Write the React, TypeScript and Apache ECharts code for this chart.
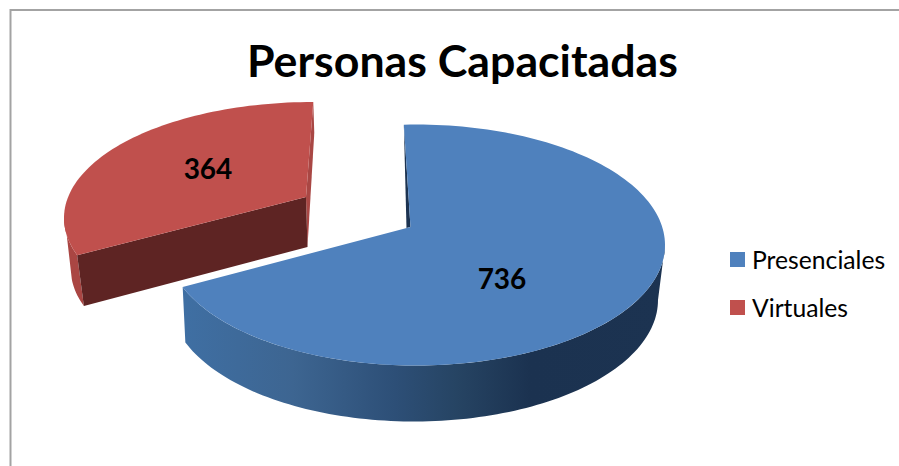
import React, { useEffect, useRef } from "react";
import * as echarts from "echarts";

const titleText = "Personas Capacitadas";
const categories = ["Presenciales", "Virtuales"];
const values = [736, 364];
const colors = ["#4F81BD", "#C0504D"];

const FONT = "Lato, 'Open Sans', sans-serif";
const total = values.reduce((a, b) => a + b, 0);

type Pt = [number, number];
type Ell = { cx: number; cy: number; rx: number; ry: number };

// Geometry of the tilted, exploded pie (one entry per slice)
const blueGeom = {
  top: { cx: 416, cy: 245, rx: 249, ry: 120.5 } as Ell,
  bottom: { cx: 414, cy: 300, rx: 244, ry: 121.5 } as Ell,
  startParam: -2.8,
  stretch: 1.0477,
  apex: [410.5, 227] as Pt,
  sideFrom: 90,
  label: [502, 278] as Pt,
};
const redGeom = {
  top: { cx: 313, cy: 218, rx: 249, ry: 116 } as Ell,
  bottom: { cx: 315, cy: 270, rx: 244, ry: 112 } as Ell,
  startParam: 251.3,
  stretch: 0.913,
  apex: [306, 197] as Pt,
  apexLow: [307.5, 247] as Pt,
  label: [208, 168] as Pt,
};

const rim = (e: Ell, deg: number): Pt => {
  const t = (deg * Math.PI) / 180;
  return [e.cx + e.rx * Math.sin(t), e.cy - e.ry * Math.cos(t)];
};
const arc = (e: Ell, from: number, to: number): Pt[] => {
  const n = Math.max(2, Math.ceil(Math.abs(to - from) / 1.5));
  const out: Pt[] = [];
  for (let i = 0; i <= n; i++) out.push(rim(e, from + ((to - from) * i) / n));
  return out;
};
const labelFont = `bold 28px ${FONT}`;
const poly = (points: Pt[], fill: any) => ({
  type: "polygon",
  shape: { points },
  style: { fill },
  silent: true,
});
const valueLabel = (p: Pt, v: number) => ({
  type: "text",
  style: {
    text: String(v),
    x: p[0],
    y: p[1],
    font: labelFont,
    fill: "#000000",
    align: "center",
    verticalAlign: "middle",
  },
  silent: true,
});

const renderBlue = (_: any, api: any) => {
  const g = blueGeom;
  const span = (360 * api.value(0)) / total;
  const a0 = g.startParam;
  const a1 = a0 + span * g.stretch;
  const gradient = new echarts.graphic.LinearGradient(0, 0, 1, 0, [
    { offset: 0, color: "#3F6FA3" },
    { offset: 0.23, color: "#3D6591" },
    { offset: 0.44, color: "#2D4F77" },
    { offset: 0.57, color: "#264463" },
    { offset: 0.72, color: "#1B3250" },
    { offset: 1, color: "#1C3351" },
  ]);
  return {
    type: "group",
    children: [
      poly(
        [...arc(g.top, g.sideFrom, a1), ...arc(g.bottom, a1, g.sideFrom)],
        gradient
      ),
      poly([rim(g.top, a0), g.apex, [g.apex[0] - 4, g.apex[1] + 1]], "#1C3351"),
      poly([g.apex, ...arc(g.top, a0, a1)], colors[0]),
      valueLabel(g.label, api.value(0)),
    ],
  };
};

const renderRed = (_: any, api: any) => {
  const g = redGeom;
  const span = (360 * api.value(0)) / total;
  const a0 = g.startParam;
  const a1 = a0 + span * g.stretch;
  const corner = rim(g.top, a1);
  const cornerLow: Pt = [corner[0] + 1, corner[1] + 31];
  return {
    type: "group",
    children: [
      poly([corner, cornerLow, g.apexLow, g.apex], "#A94744"),
      poly(
        [...arc(g.top, a0, a0 + 21), ...arc(g.bottom, a0 + 14, a0)],
        "#AA4643"
      ),
      poly([g.apex, rim(g.top, a0), rim(g.bottom, a0), g.apexLow], "#5E2423"),
      poly([g.apex, ...arc(g.top, a0, a1)], colors[1]),
      valueLabel(g.label, api.value(0)),
    ],
  };
};

export default function App() {
  const ref = useRef<HTMLDivElement>(null);
  useEffect(() => {
    const chart = echarts.init(ref.current!, undefined, { renderer: "svg" });
    chart.setOption({
      animation: false,
      backgroundColor: "#ffffff",
      title: {
        text: titleText,
        left: 242,
        top: 32,
        textStyle: {
          fontFamily: FONT,
          fontWeight: "bold",
          fontSize: 44.7,
          color: "#000000",
        },
      },
      legend: {
        orient: "vertical",
        left: 725,
        top: 242,
        padding: 5,
        icon: "rect",
        itemWidth: 15,
        itemHeight: 15,
        itemGap: 23,
        data: categories,
        textStyle: {
          fontFamily: FONT,
          fontSize: 24.7,
          lineHeight: 24,
          color: "#000000",
          padding: [0, 0, 0, 2],
        },
      },
      graphic: [
        {
          type: "polyline",
          shape: { points: [[10.5, 466], [10.5, 10], [899, 10]] },
          style: { stroke: "#A3A3A3", lineWidth: 2, fill: "none" },
          silent: true,
        },
      ],
      series: [
        {
          type: "custom",
          name: categories[0],
          coordinateSystem: "none",
          itemStyle: { color: colors[0] },
          data: [[values[0]]],
          renderItem: renderBlue,
        },
        {
          type: "custom",
          name: categories[1],
          coordinateSystem: "none",
          itemStyle: { color: colors[1] },
          data: [[values[1]]],
          renderItem: renderRed,
        },
      ],
    });
    return () => chart.dispose();
  }, []);
  return (
    <div
      ref={ref}
      style={{ position: "fixed", left: 0, top: 0, width: 899, height: 466 }}
    />
  );
}
